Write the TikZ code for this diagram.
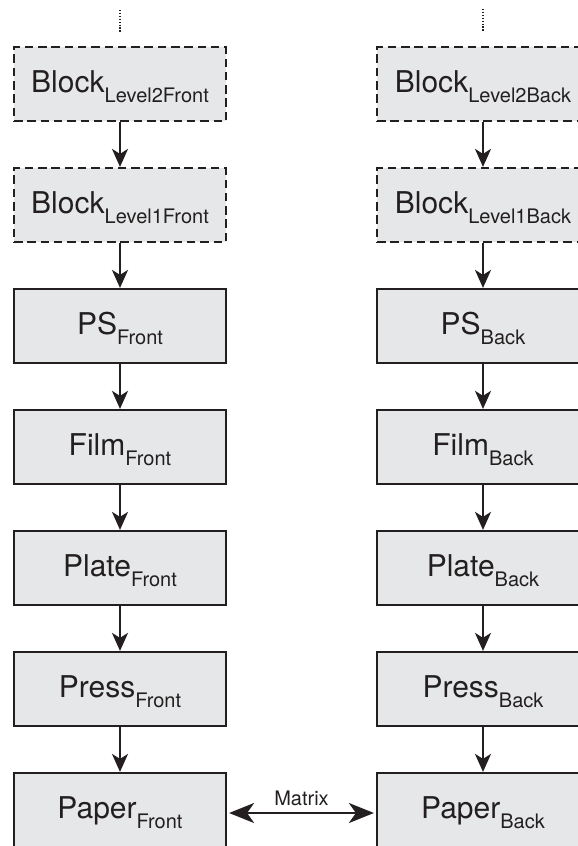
\documentclass[tikz,border=0pt]{standalone}
\usepackage{fontspec}
\setmainfont{TeX Gyre Heros}
\usetikzlibrary{arrows.meta}
\definecolor{boxfill}{HTML}{E6E7E8}
\definecolor{ink}{HTML}{231F20}
\newcommand{\lbl}[2]{#1\raisebox{-10pt}{\fontsize{20}{22}\selectfont #2}}
\begin{document}
\begin{tikzpicture}[x=1pt,y=-1pt,
  stage/.style={draw=ink, fill=boxfill, line width=2.2pt, minimum width=212pt,
    minimum height=74pt, inner sep=0pt, text height=20pt, text depth=4pt,
    font=\fontsize{30}{34}\selectfont, text=ink},
  dstage/.style={stage, dash pattern=on 8.5pt off 4.8pt},
  flow/.style={draw=ink, line width=2.2pt, -{Stealth[length=18pt,width=16pt,inset=5pt]}},
  both/.style={draw=ink, line width=2.2pt, {Stealth[length=25pt,width=20pt,inset=7pt]}-{Stealth[length=25pt,width=20pt,inset=7pt]}},
  dots/.style={draw=ink, line width=1.6pt, dash pattern=on 1.4pt off 1.5pt}]
\path[use as bounding box, clip] (0,0) rectangle (578,846);
% left column
\node[dstage] (l1) at (120,84)  {\lbl{Block}{Level2Front}};
\node[dstage] (l2) at (120,205) {\lbl{Block}{Level1Front}};
\node[stage]  (l3) at (120,326) {\lbl{PS}{Front}};
\node[stage]  (l4) at (120,447) {\lbl{Film}{Front}};
\node[stage]  (l5) at (120,568) {\lbl{Plate}{Front}};
\node[stage]  (l6) at (120,689) {\lbl{Press}{Front}};
\node[stage]  (l7) at (120,810) {\lbl{Paper}{Front}};
% right column
\node[dstage] (r1) at (483,84)  {\lbl{Block}{Level2Back}};
\node[dstage] (r2) at (483,205) {\lbl{Block}{Level1Back}};
\node[stage]  (r3) at (483,326) {\lbl{PS}{Back}};
\node[stage]  (r4) at (483,447) {\lbl{Film}{Back}};
\node[stage]  (r5) at (483,568) {\lbl{Plate}{Back}};
\node[stage]  (r6) at (483,689) {\lbl{Press}{Back}};
\node[stage]  (r7) at (483,810) {\lbl{Paper}{Back}};
% dotted continuations
\coordinate (lta) at (120,10); \coordinate (ltb) at (120,32);
\coordinate (rta) at (483,9);  \coordinate (rtb) at (483,31);
\draw[dots] (lta) -- (ltb);
\draw[dots] (rta) -- (rtb);
% flows
\foreach \a/\b in {l1/l2,l2/l3,l3/l4,l4/l5,l5/l6,l6/l7,r1/r2,r2/r3,r3/r4,r4/r5,r5/r6,r6/r7}
  \draw[flow] (\a.south) -- (\b.north);
\draw[both] ([xshift=2pt,yshift=-3pt]l7.east) -- node[anchor=base, yshift=8pt, inner sep=0pt, text=ink, font=\fontsize{20}{22}\selectfont] (mx) {Matrix} ([xshift=-2pt,yshift=-3pt]r7.west);
\end{tikzpicture}
\end{document}
